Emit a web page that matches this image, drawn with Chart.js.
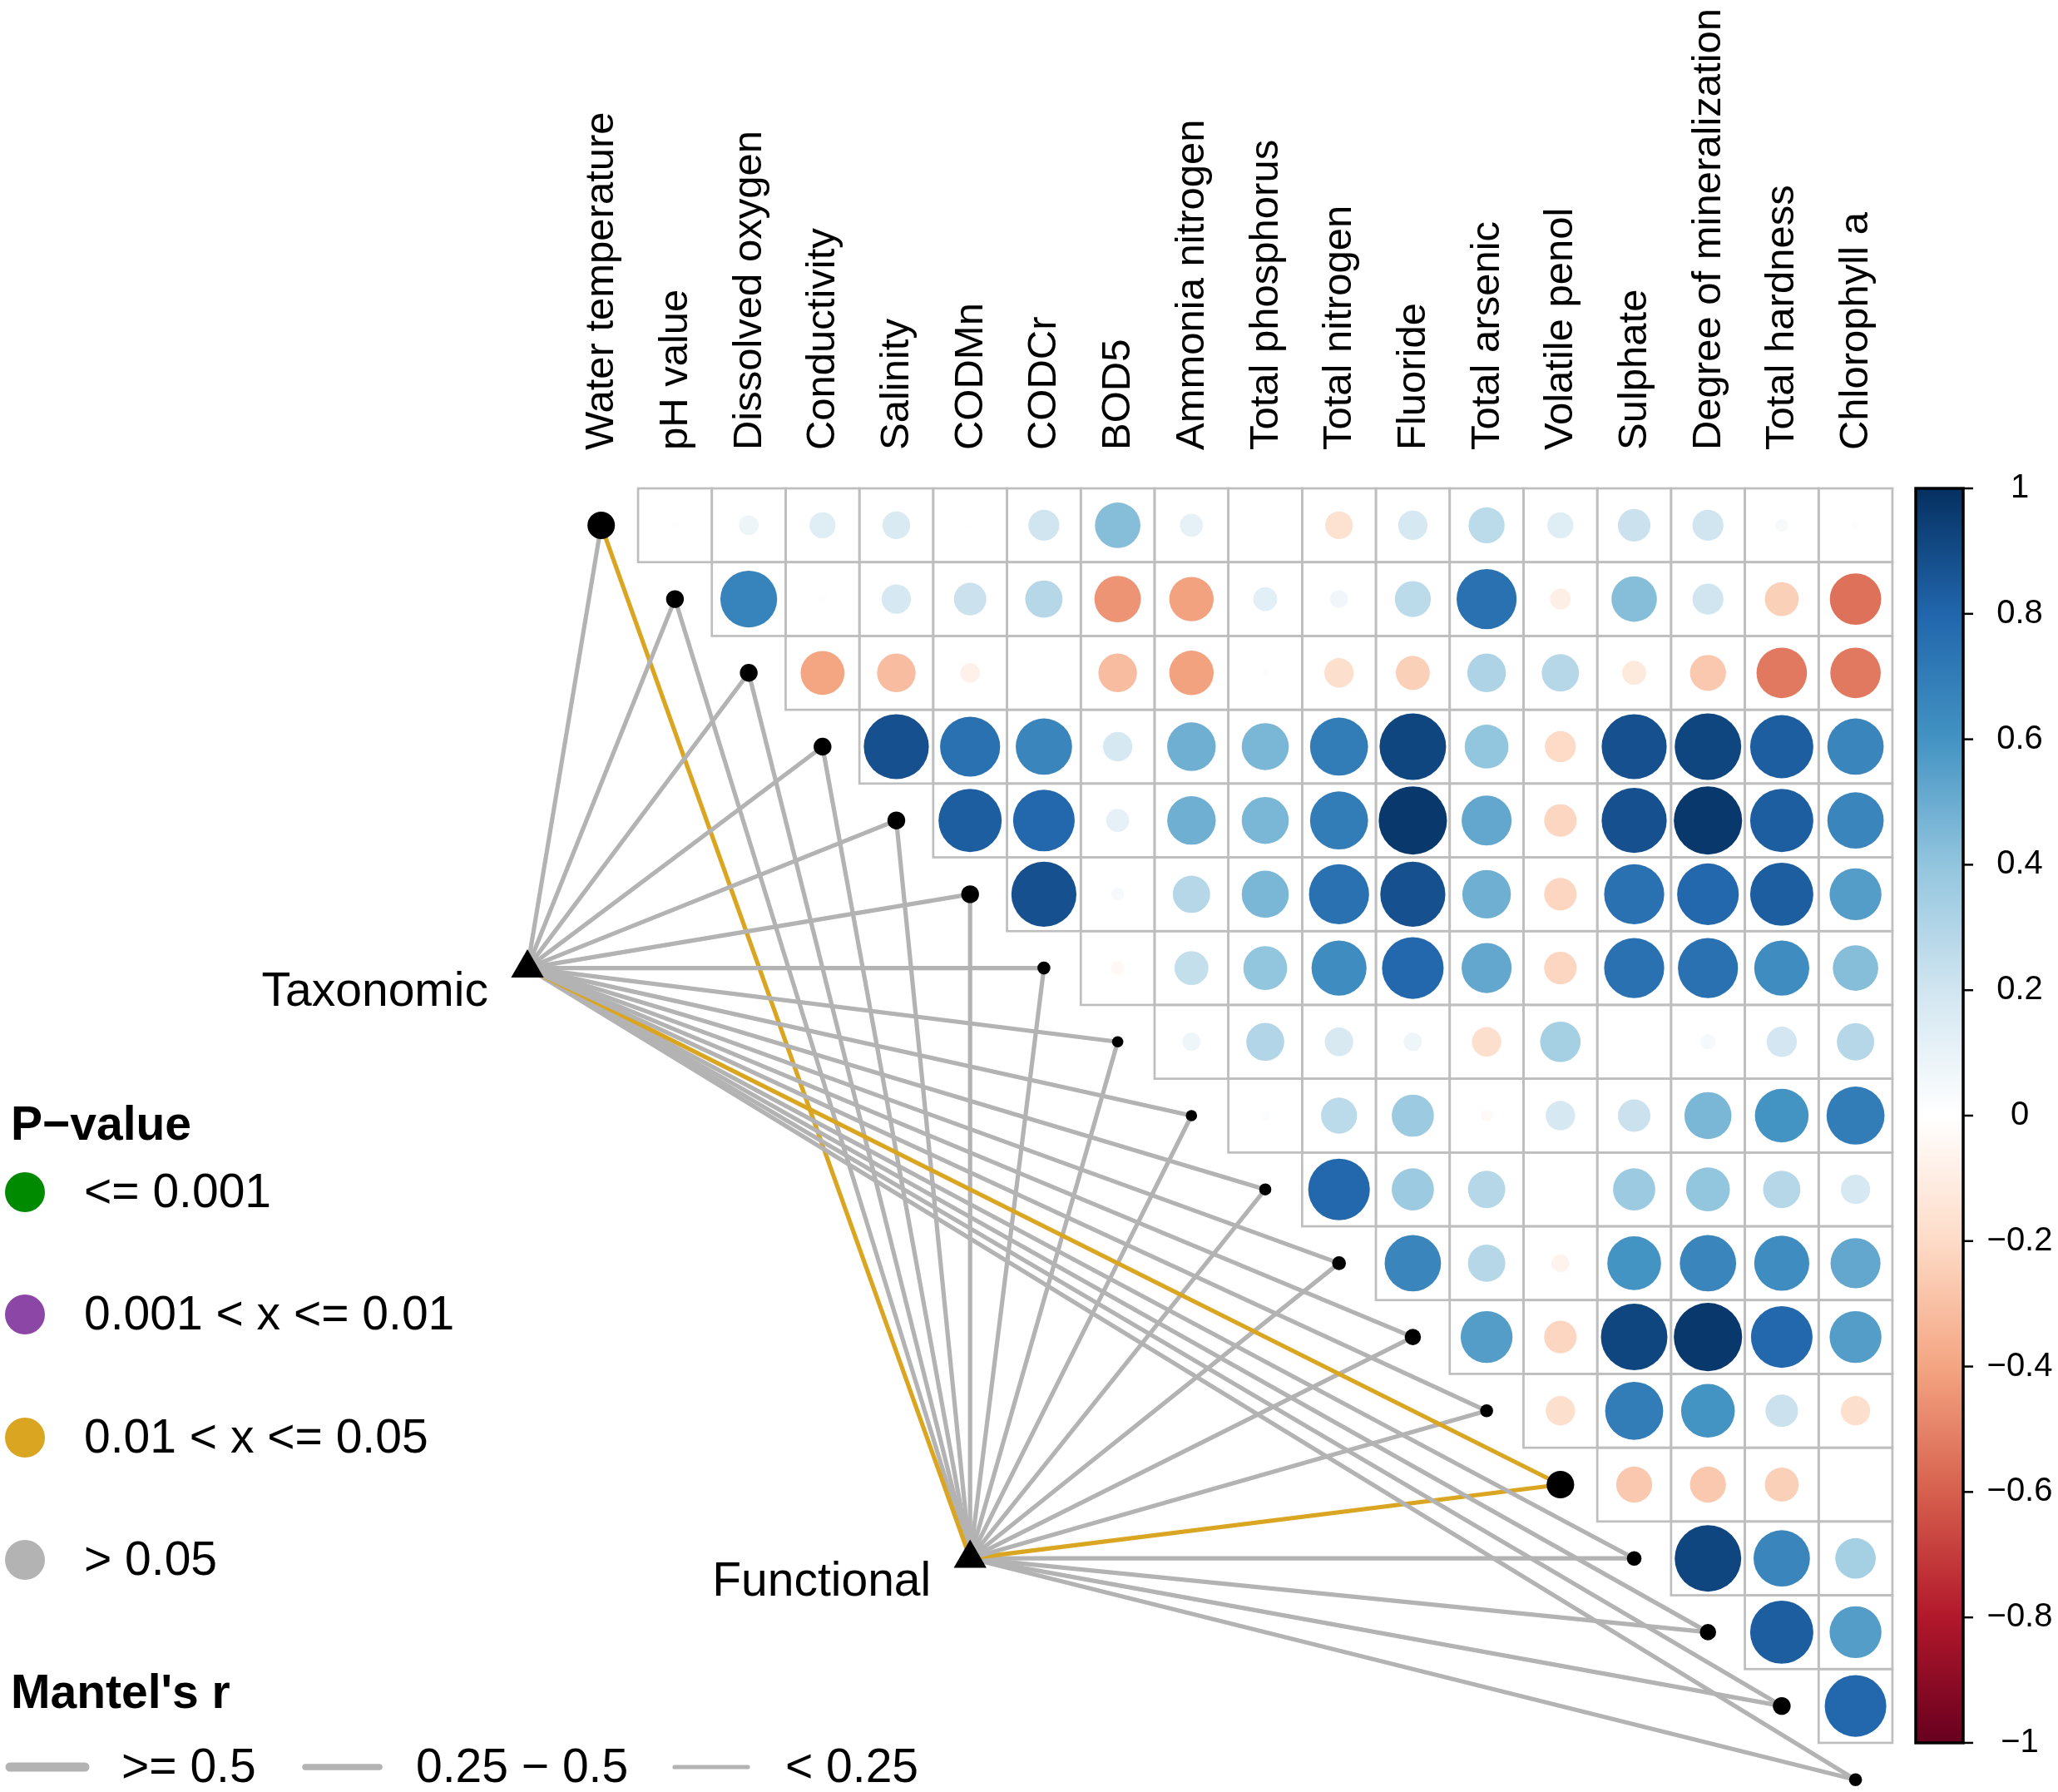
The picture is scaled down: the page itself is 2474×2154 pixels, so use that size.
<!DOCTYPE html>
<html>
<head>
<meta charset="utf-8">
<script src="https://cdn.jsdelivr.net/npm/chart.js@4.4.1/dist/chart.umd.min.js"></script>
<style>
  html, body { margin: 0; padding: 0; background: #ffffff; }
  canvas { display: block; }
</style>
</head>
<body>
<canvas id="myChart" width="2474" height="2154"></canvas>
<script>
'use strict';

//variables, in matrix order
const varNames = ['Water temperature', 'pH value', 'Dissolved oxygen', 'Conductivity', 'Salinity', 'CODMn', 'CODCr', 'BOD5',
  'Ammonia nitrogen', 'Total phosphorus', 'Total nitrogen', 'Fluoride', 'Total arsenic', 'Volatile penol', 'Sulphate',
  'Degree of mineralization', 'Total hardness', 'Chlorophyll a'];

//correlation r, upper triangle: row i holds columns i+1 .. 18
const corrUpper = [
  [0.01, 0.08, 0.14, 0.16, 0.01, 0.20, 0.43, 0.11, 0.005, -0.16, 0.18, 0.27, 0.14, 0.22, 0.20, 0.035, 0.012],
  [0.67, 0.014, 0.18, 0.22, 0.29, -0.45, -0.41, 0.12, 0.066, 0.27, 0.75, -0.09, 0.43, 0.20, -0.24, -0.55],
  [-0.40, -0.31, -0.08, 0, -0.31, -0.41, -0.01, -0.18, -0.24, 0.31, 0.29, -0.12, -0.27, -0.53, -0.53],
  [0.88, 0.75, 0.66, 0.18, 0.49, 0.46, 0.70, 0.92, 0.40, -0.20, 0.88, 0.92, 0.83, 0.66],
  [0.83, 0.79, 0.11, 0.49, 0.46, 0.70, 0.97, 0.52, -0.22, 0.88, 0.97, 0.83, 0.66],
  [0.88, 0.035, 0.29, 0.46, 0.75, 0.88, 0.49, -0.22, 0.75, 0.79, 0.83, 0.56],
  [-0.04, 0.24, 0.40, 0.63, 0.79, 0.52, -0.22, 0.75, 0.75, 0.63, 0.43],
  [0.07, 0.30, 0.17, 0.07, -0.18, 0.34, 0, 0.05, 0.19, 0.29],
  [0.02, 0.27, 0.37, -0.03, 0.18, 0.22, 0.46, 0.60, 0.70],
  [0.79, 0.37, 0.29, 0, 0.37, 0.40, 0.29, 0.18],
  [0.66, 0.29, -0.066, 0.60, 0.66, 0.63, 0.52],
  [0.56, -0.22, 0.92, 0.97, 0.79, 0.56],
  [-0.18, 0.70, 0.60, 0.22, -0.18],
  [-0.27, -0.27, -0.24, 0.01],
  [0.92, 0.66, 0.34],
  [0.83, 0.56],
  [0.79]
];

//Mantel test groups and legend levels
const mantelGroups = ['Taxonomic', 'Functional'];
const pLevels = ['<= 0.001', '0.001 < x <= 0.01', '0.01 < x <= 0.05', '> 0.05'];
const rLevels = ['>= 0.5', '0.25 \u2212 0.5', '< 0.25'];

//p-value level (index into pLevels) per variable
const taxonomicP = [3, 3, 3, 3, 3, 3, 3, 3, 3, 3, 3, 3, 3, 2, 3, 3, 3, 3];
const functionalP = [2, 3, 3, 3, 3, 3, 3, 3, 3, 3, 3, 3, 3, 2, 3, 3, 3, 3];
//Mantel's r level (index into rLevels) per variable
const taxonomicR = [2, 2, 2, 2, 2, 2, 2, 2, 2, 2, 2, 2, 2, 2, 2, 2, 2, 2];
const functionalR = [2, 2, 2, 2, 2, 2, 2, 2, 2, 2, 2, 2, 2, 2, 2, 2, 2, 2];

const colorbarTicks = [1, 0.8, 0.6, 0.4, 0.2, 0, -0.2, -0.4, -0.6, -0.8, -1];

//styles
const rdbu = ['#67001F', '#B2182B', '#D6604D', '#F4A582', '#FDDBC7', '#FFFFFF', '#D1E5F0', '#92C5DE', '#4393C3', '#2166AC', '#053061'];
const pColors = ['#008A00', '#8C47A6', '#DAA520', '#B3B3B3'];
const rWidths = [11, 7.5, 5.2];
const nodeDotSize = [16.5, 10.7, 10.7, 10.7, 10.7, 10.7, 7.8, 6.8, 6.8, 7.3, 8.3, 9.8, 7.8, 16.6, 8.8, 9.8, 10.7, 7.8];
const anchorSpots = [{x: 0, y: 7}, {x: 6, y: 15}];
const FONT = '"Liberation Sans", Arial, Helvetica, sans-serif';

//interpolate the RdBu ramp
function hexToRgb(h) {
  return [parseInt(h.slice(1, 3), 16), parseInt(h.slice(3, 5), 16), parseInt(h.slice(5, 7), 16)];
}
function corrColor(v) {
  let t = (v + 1) / 2 * (rdbu.length - 1);
  let i = Math.min(Math.floor(t), rdbu.length - 2);
  let f = t - i;
  let a = hexToRgb(rdbu[i]);
  let b = hexToRgb(rdbu[i + 1]);
  let c = a.map((val, k) => Math.round(val + (b[k] - val) * f));
  return `rgb(${c[0]}, ${c[1]}, ${c[2]})`;
}

//cell size in pixels from the x scale
function cellPx(chart) {
  const xs = chart.scales.x;
  return Math.abs(xs.getPixelForValue(1) - xs.getPixelForValue(0));
}

//circle points
let corrPoints = [];
for (let i = 0; i < corrUpper.length; i++) {
  for (let k = 0; k < corrUpper[i].length; k++) {
    corrPoints.push({x: i + 2 + k, y: i + 1, v: corrUpper[i][k]});
  }
}

//diagonal nodes
let nodePoints = varNames.map((n, i) => ({x: i + 1, y: i + 1}));

//Mantel links
let linkSets = [];
const pArrays = [taxonomicP, functionalP];
const rArrays = [taxonomicR, functionalR];
for (let g = 0; g < mantelGroups.length; g++) {
  for (let i = 0; i < varNames.length; i++) {
    linkSets.push({
      data: [anchorSpots[g], {x: i + 1, y: i + 1}],
      showLine: true,
      borderColor: pColors[pArrays[g][i]],
      borderWidth: rWidths[rArrays[g][i]],
      pointRadius: 0,
      order: 3
    });
  }
}

//grid behind the circles
const gridPlugin = {
  id: 'corrGrid',
  beforeDatasetsDraw(chart) {
    const {ctx, scales: {x, y}} = chart;
    ctx.save();
    ctx.strokeStyle = '#BEBEBE';
    ctx.lineWidth = 2.7;
    for (let i = 0; i < corrUpper.length; i++) {
      for (let k = 0; k < corrUpper[i].length; k++) {
        let col = i + 2 + k;
        let row = i + 1;
        let x0 = x.getPixelForValue(col - 0.5);
        let x1 = x.getPixelForValue(col + 0.5);
        let y0 = y.getPixelForValue(row - 0.5);
        let y1 = y.getPixelForValue(row + 0.5);
        ctx.strokeRect(x0, y0, x1 - x0, y1 - y0);
      }
    }
    ctx.restore();
  }
};

//labels, colour bar and legends
const decorPlugin = {
  id: 'decor',
  afterDraw(chart) {
    const {ctx, scales: {x, y}} = chart;
    ctx.save();
    ctx.fillStyle = '#000000';

    //column labels, rotated
    const labelBottom = y.getPixelForValue(0.5) - 46;
    ctx.font = `49px ${FONT}`;
    ctx.textAlign = 'left';
    ctx.textBaseline = 'middle';
    for (let i = 0; i < varNames.length; i++) {
      ctx.save();
      ctx.translate(x.getPixelForValue(i + 1) + 1, labelBottom);
      ctx.rotate(-Math.PI / 2);
      ctx.fillText(varNames[i], 0, 0);
      ctx.restore();
    }

    //group labels
    ctx.font = `57px ${FONT}`;
    ctx.textAlign = 'right';
    ctx.textBaseline = 'alphabetic';
    for (let g = 0; g < mantelGroups.length; g++) {
      let px = x.getPixelForValue(anchorSpots[g].x);
      let py = y.getPixelForValue(anchorSpots[g].y);
      ctx.fillText(mantelGroups[g], px - 47, py + 45);
    }

    //colour bar
    const barTop = y.getPixelForValue(0.5);
    const barBottom = y.getPixelForValue(corrUpper.length + 0.5);
    const barLeft = 2303;
    const barRight = 2360;
    let grad = ctx.createLinearGradient(0, barTop, 0, barBottom);
    for (let k = 0; k < rdbu.length; k++) {
      grad.addColorStop(k / (rdbu.length - 1), rdbu[rdbu.length - 1 - k]);
    }
    ctx.fillStyle = grad;
    ctx.fillRect(barLeft, barTop, barRight - barLeft, barBottom - barTop);
    ctx.strokeStyle = '#000000';
    ctx.lineWidth = 3.5;
    ctx.strokeRect(barLeft, barTop, barRight - barLeft, barBottom - barTop);
    ctx.lineWidth = 2.5;
    ctx.fillStyle = '#000000';
    ctx.font = `40px ${FONT}`;
    ctx.textAlign = 'center';
    ctx.textBaseline = 'middle';
    for (let t of colorbarTicks) {
      let ty = barTop + (1 - t) / 2 * (barBottom - barTop);
      ctx.beginPath();
      ctx.moveTo(barRight, ty);
      ctx.lineTo(barRight + 12, ty);
      ctx.stroke();
      let txt = t < 0 ? '\u2212' + Math.abs(t) : String(t);
      ctx.fillText(txt, 2428, ty);
    }

    //P-value legend
    ctx.textAlign = 'left';
    ctx.textBaseline = 'alphabetic';
    ctx.font = `bold 57px ${FONT}`;
    ctx.fillText('P\u2212value', 13, 1370);
    ctx.font = `57px ${FONT}`;
    ctx.textBaseline = 'middle';
    const pRowY = [1433, 1580, 1728, 1875];
    for (let k = 0; k < pLevels.length; k++) {
      ctx.fillStyle = pColors[k];
      ctx.beginPath();
      ctx.arc(30, pRowY[k], 24, 0, Math.PI * 2);
      ctx.fill();
      ctx.fillStyle = '#000000';
      ctx.fillText(pLevels[k], 101, pRowY[k] + 2);
    }

    //Mantel's r legend
    ctx.textBaseline = 'alphabetic';
    ctx.font = `bold 57px ${FONT}`;
    ctx.fillText('Mantel\'s r', 13, 2053);
    ctx.font = `57px ${FONT}`;
    ctx.textBaseline = 'middle';
    const keyY = 2124;
    const keyX = [[12, 102, 146], [367, 456, 500], [811, 899, 944]];
    ctx.strokeStyle = '#B3B3B3';
    ctx.lineCap = 'round';
    for (let k = 0; k < rLevels.length; k++) {
      ctx.lineWidth = rWidths[k];
      ctx.beginPath();
      ctx.moveTo(keyX[k][0], keyY);
      ctx.lineTo(keyX[k][1], keyY);
      ctx.stroke();
      ctx.fillText(rLevels[k], keyX[k][2], keyY + 2);
    }
    ctx.restore();
  }
};

const data = {
  datasets: [
    {
      data: corrPoints,
      pointRadius: ctx => 0.47 * cellPx(ctx.chart) * Math.sqrt(Math.abs(ctx.raw.v)),
      pointBackgroundColor: ctx => corrColor(ctx.raw.v),
      pointBorderWidth: 0,
      order: 4
    },
    ...linkSets,
    {
      data: nodePoints,
      pointRadius: nodeDotSize,
      pointBackgroundColor: '#000000',
      pointBorderWidth: 0,
      order: 1
    },
    {
      data: anchorSpots,
      pointStyle: 'triangle',
      pointRadius: 22.7,
      pointBackgroundColor: '#000000',
      pointBorderWidth: 0,
      order: 0
    }
  ]
};

const config = {
  type: 'scatter',
  data: data,
  options: {
    responsive: false,
    animation: false,
    devicePixelRatio: 1,
    layout: { padding: 0, autoPadding: false },
    events: [],
    plugins: {
      legend: { display: false },
      tooltip: { enabled: false }
    },
    scales: {
      x: { type: 'linear', min: -7.1477, max: 20.744, display: false },
      y: { type: 'linear', min: -6.1184, max: 18.166, reverse: true, display: false }
    }
  },
  plugins: [gridPlugin, decorPlugin]
};

const myChart = new Chart(
  document.getElementById('myChart'),
  config
);
</script>
</body>
</html>
